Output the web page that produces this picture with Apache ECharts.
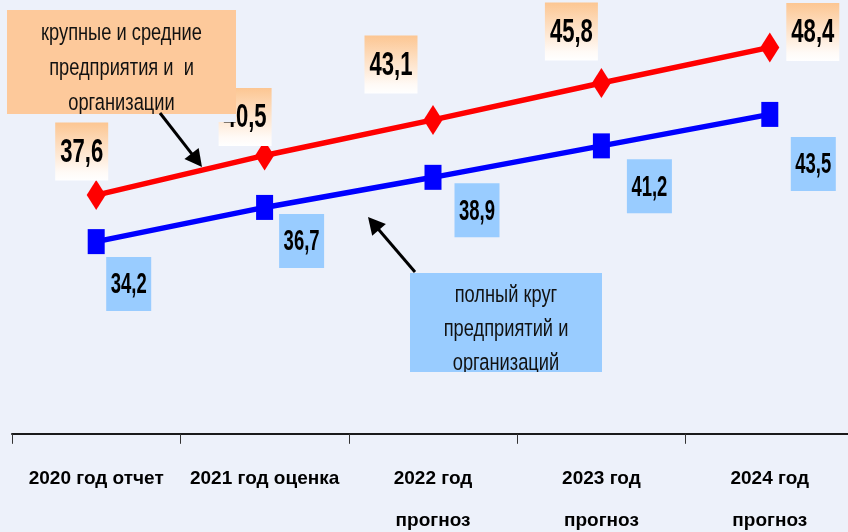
<!DOCTYPE html>
<html>
<head>
<meta charset="utf-8">
<script src="https://cdn.jsdelivr.net/npm/echarts@6/dist/echarts.min.js"></script>
<style>
html,body{margin:0;padding:0;background:#edf1fa;}
#chart{width:848px;height:532px;}
</style>
</head>
<body>
<div id="chart"></div>
<script>
// ---- data ----
const categories = ['2020 год отчет', '2021 год оценка', '2022 год\nпрогноз', '2023 год\nпрогноз', '2024 год\nпрогноз'];
const largeMedium = [37.6, 40.5, 43.1, 45.8, 48.4];   // крупные и средние предприятия и организации
const fullCircle = [34.2, 36.7, 38.9, 41.2, 43.5];    // полный круг предприятий и организаций
const note1Lines = ['крупные и средние', 'предприятия и  и', 'организации'];
const note2Lines = ['полный круг', 'предприятий и', 'организаций'];

// ---- layout (label box offsets from points, px) ----
const redLabelOffsets = [[-14.5,-43.5],[-19.5,-38.5],[-42,-55.5],[-30,-51.5],[43,-15.5]];
const blueLabelOffsets = [[32.5,42.5],[37,33.5],[44,33],[48,40.5],[43.5,49.5]];

const FONT = '"Liberation Sans", Arial, Helvetica, sans-serif';
const BG = '#edf1fa';
const fmt = v => v.toFixed(1).replace('.', ',');

const chart = echarts.init(document.getElementById('chart'));

function labelSeries(values, offsets, size, fill, fontSize, sx, sy) {
  return {
    type: 'custom',
    coordinateSystem: 'cartesian2d',
    data: values.map((v, i) => [i, v]),
    z: 10,
    silent: true,
    clip: false,
    renderItem(params, api) {
      const i = params.dataIndex;
      const p = api.coord([api.value(0), api.value(1)]);
      const cx = p[0] + offsets[i][0], cy = p[1] + offsets[i][1];
      return {
        type: 'group',
        children: [
          { type: 'rect', shape: { x: cx - size[0] / 2, y: cy - size[1] / 2, width: size[0], height: size[1] }, style: { fill: fill } },
          { type: 'text', x: cx, y: cy + 1, scaleX: sx, scaleY: sy,
            style: { text: fmt(values[i]), x: 0, y: 0, align: 'center', verticalAlign: 'middle',
                     fontFamily: FONT, fontWeight: 'bold', fontSize: fontSize, fill: '#000' } }
        ]
      };
    }
  };
}

function arrow(x1, y1, x2, y2) {
  const dx = x2 - x1, dy = y2 - y1, len = Math.hypot(dx, dy);
  const ux = dx / len, uy = dy / len, nx = -uy, ny = ux;
  const hl = 17, hw = 9;
  const bx = x2 - ux * hl, by = y2 - uy * hl;
  return [
    { type: 'line', z: 120, shape: { x1: x1, y1: y1, x2: bx + ux * 2, y2: by + uy * 2 }, style: { stroke: '#000', lineWidth: 3 } },
    { type: 'polygon', z: 120, shape: { points: [[x2, y2], [bx + nx * hw, by + ny * hw], [bx - nx * hw, by - ny * hw]] }, style: { fill: '#000' } }
  ];
}

function noteTexts(lines, cx, y0, step) {
  return lines.map((t, i) => ({
    type: 'text', z: 101, x: cx, y: y0 + i * step, scaleX: 0.87, scaleY: 1.18,
    style: { text: t, x: 0, y: 0, align: 'center', verticalAlign: 'middle',
             fontFamily: FONT, fontSize: 21, fill: '#111' }
  }));
}

const peachGrad = new echarts.graphic.LinearGradient(0, 0, 0, 1, [
  { offset: 0, color: '#fcc692' }, { offset: 0.85, color: '#fffaf6' }, { offset: 1, color: '#ffffff' }
]);

const option = {
  backgroundColor: BG,
  animation: false,
  grid: { left: 12, right: -6, top: 25.5, bottom: 98.2, containLabel: false, outerBoundsMode: 'none' },
  xAxis: {
    type: 'category',
    data: categories,
    boundaryGap: true,
    axisLine: { lineStyle: { color: '#1a1a1a', width: 2 } },
    axisTick: { show: true, length: 10, lineStyle: { color: '#333', width: 1 } },
    axisLabel: { interval: 0, margin: 24, color: '#000', fontFamily: FONT, fontWeight: 'bold', fontSize: 19, lineHeight: 42 }
  },
  yAxis: { type: 'value', min: 20.15, max: 50, show: false },
  series: [
    { type: 'line', data: largeMedium, z: 3, symbol: 'diamond', symbolSize: [19, 30],
      itemStyle: { color: '#ff0000' }, lineStyle: { color: '#ff0000', width: 5.5 } },
    { type: 'line', data: fullCircle, z: 3, symbol: 'rect', symbolSize: [17, 25],
      itemStyle: { color: '#0000ff' }, lineStyle: { color: '#0000ff', width: 5.5 } },
    labelSeries(largeMedium, redLabelOffsets, [53, 58], peachGrad, 26, 0.85, 1.29),
    labelSeries(fullCircle, blueLabelOffsets, [45, 54], '#99ccff', 22, 0.84, 1.35)
  ],
  graphic: [
    { type: 'rect', z: 100, shape: { x: 7, y: 10, width: 229, height: 104 }, style: { fill: '#fdc99b' } },
    ...noteTexts(note1Lines, 121.5, 33, 35),
    { type: 'rect', z: 102, shape: { x: 7, y: 114, width: 229, height: 8 }, style: { fill: BG } },
    { type: 'rect', z: 100, shape: { x: 410, y: 273, width: 192, height: 99 }, style: { fill: '#99ccff' } },
    ...noteTexts(note2Lines, 506, 295.5, 34),
    { type: 'rect', z: 102, shape: { x: 410, y: 372, width: 192, height: 12 }, style: { fill: BG } },
    ...arrow(160, 113, 202, 167),
    ...arrow(415, 272, 368, 217)
  ]
};
chart.setOption(option);
</script>
</body>
</html>
